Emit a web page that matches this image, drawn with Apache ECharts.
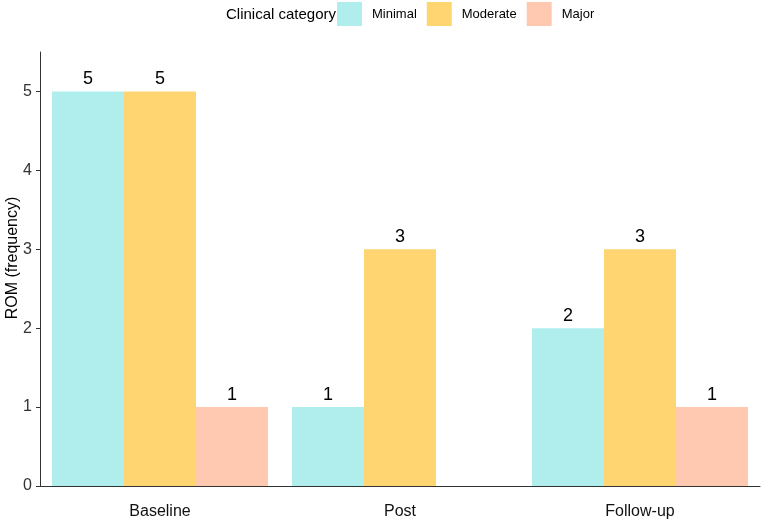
<!DOCTYPE html>
<html>
<head>
<meta charset="utf-8">
<script src="https://cdn.jsdelivr.net/npm/echarts@6/dist/echarts.min.js"></script>
<style>
  html, body { margin: 0; padding: 0; background: #fff; }
  #chart { width: 762px; height: 521px; }
</style>
</head>
<body>
<div id="chart"></div>
<script>
// data
const timepoints = ['Baseline', 'Post', 'Follow-up'];
const minimal = [5, 1, 2];
const moderate = [5, 3, 3];
const major = [1, null, 1];
const yTicks = [0, 1, 2, 3, 4, 5];

const font = '"Liberation Sans", Arial, sans-serif';

const chart = echarts.init(document.getElementById('chart'));

const barLabel = {
  show: true,
  position: 'top',
  distance: 3,
  color: '#000',
  fontSize: 18,
  fontFamily: font
};

const option = {
  animation: false,
  textStyle: { fontFamily: font },
  title: {
    text: 'Clinical category',
    left: 226,
    top: 7,
    padding: 0,
    textStyle: { fontSize: 15, fontWeight: 'normal', color: '#000', fontFamily: font }
  },
  legend: {
    left: 337,
    top: 2,
    padding: 0,
    itemWidth: 25,
    itemHeight: 24,
    itemGap: 10,
    icon: 'rect',
    textStyle: { fontSize: 13, color: '#000', padding: [2, 0, 0, 5], fontFamily: font },
    data: ['Minimal', 'Moderate', 'Major']
  },
  grid: { left: 40, right: 2, top: 52, bottom: 35, outerBoundsMode: 'none' },
  xAxis: {
    type: 'category',
    data: timepoints,
    axisLine: { lineStyle: { color: '#333', width: 1 } },
    axisTick: { alignWithLabel: true, length: 4, lineStyle: { color: '#333' } },
    axisLabel: { fontSize: 16, color: '#111', margin: 18 }
  },
  yAxis: {
    type: 'value',
    min: 0,
    max: 5.5,
    interval: 1,
    name: 'ROM (frequency)',
    nameLocation: 'middle',
    nameGap: 19,
    nameMoveOverlap: false,
    nameTextStyle: { fontSize: 16, color: '#000', padding: [0, 0, 0, 22] },
    splitLine: { show: false },
    axisLine: { show: true, lineStyle: { color: '#333', width: 1 } },
    axisTick: { show: true, length: 4, customValues: yTicks, lineStyle: { color: '#333' } },
    axisLabel: { fontSize: 16, color: '#333', margin: 8, customValues: yTicks }
  },
  series: [
    {
      name: 'Minimal', type: 'bar', data: minimal,
      barGap: '0%', barCategoryGap: '10%',
      itemStyle: { color: '#b0eded' },
      label: barLabel
    },
    {
      name: 'Moderate', type: 'bar', data: moderate,
      itemStyle: { color: '#fed571' },
      label: barLabel
    },
    {
      name: 'Major', type: 'bar', data: major,
      itemStyle: { color: '#ffc8b0' },
      label: barLabel
    }
  ]
};

chart.setOption(option);
</script>
</body>
</html>
